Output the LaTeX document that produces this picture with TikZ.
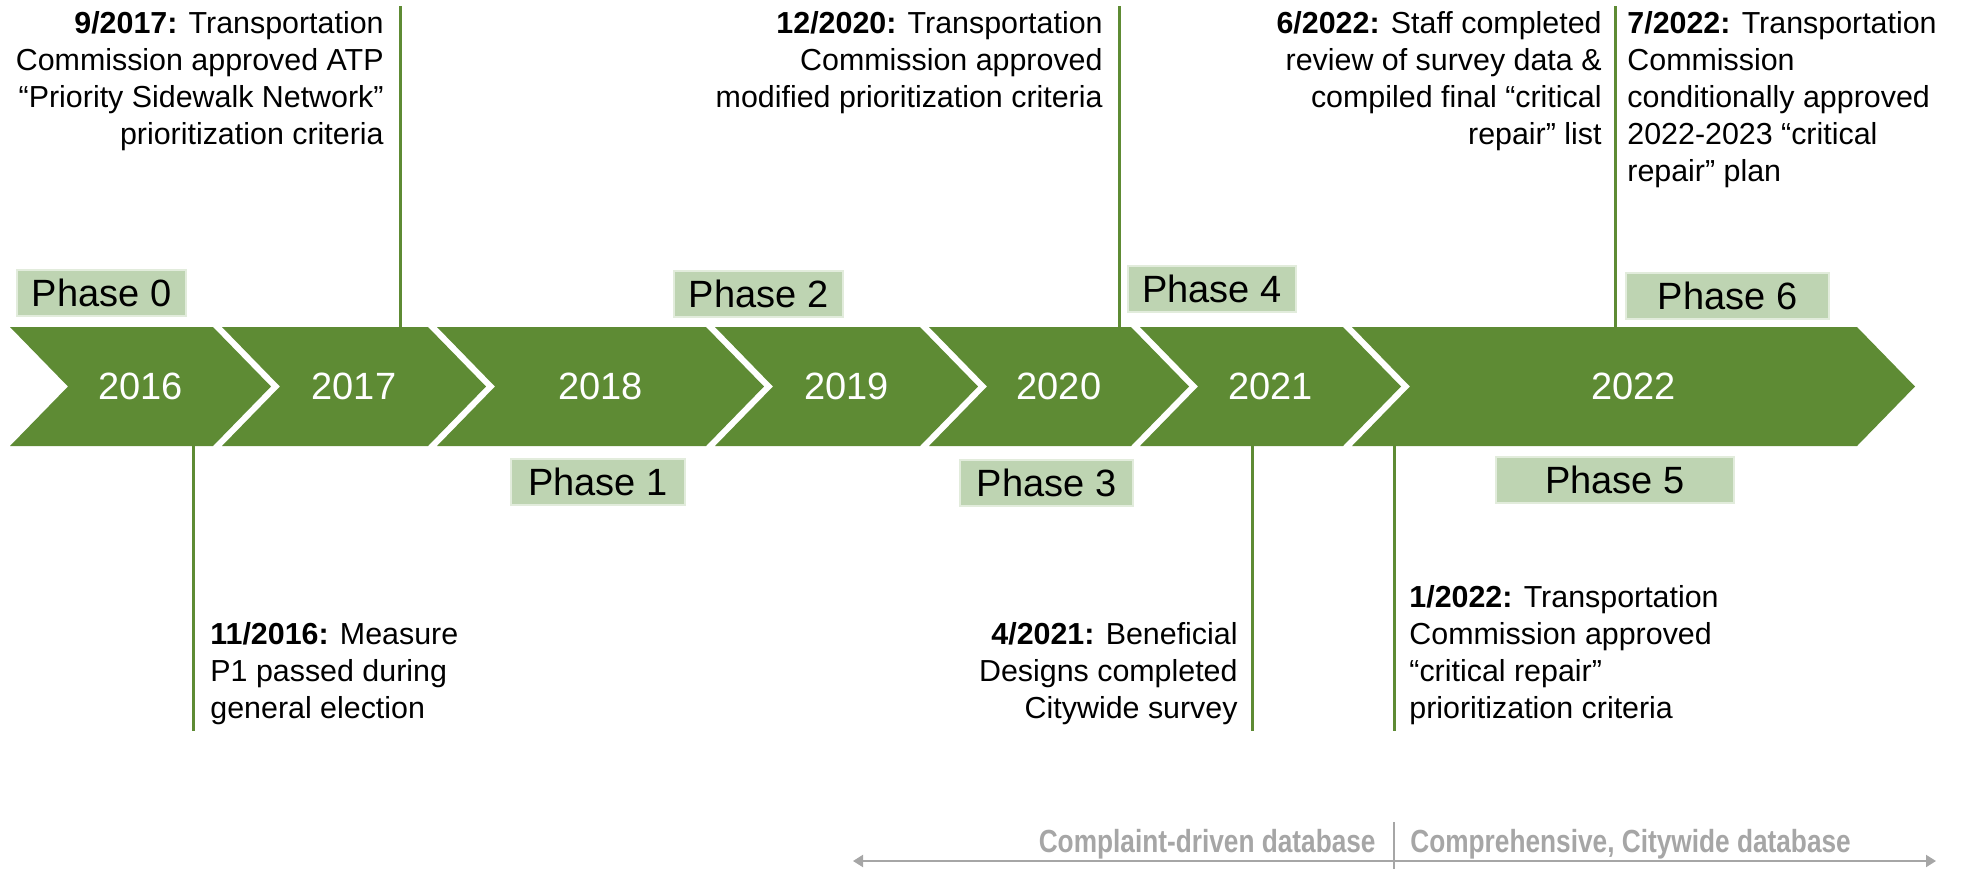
\documentclass[tikz,border=0pt]{standalone}
\usepackage{fontspec}
\setmainfont{Liberation Sans}
\newfontfamily\narrowsans[FakeStretch=0.82]{Liberation Sans}
\usetikzlibrary{arrows.meta}
\definecolor{chevgreen}{RGB}{94,139,52}
\definecolor{phasefill}{RGB}{190,212,178}
\definecolor{legendgray}{RGB}{166,166,166}

\begin{document}
\begin{tikzpicture}[x=0.5pt, y=-0.5pt,
    yearlabel/.style={text=white, inner sep=0pt, font=\fontsize{19}{22}\selectfont},
    phasebox/.style={fill=phasefill, draw=phasefill, draw opacity=0.45, line width=2pt,
        minimum height=22pt, inner sep=0pt, font=\fontsize{19}{22}\selectfont},
    eventtext/.style={inner sep=0pt, font=\fontsize{15.2}{18.5}\selectfont},
    eventline/.style={chevgreen, line width=1.5pt},
    legendtext/.style={text=legendgray, inner sep=0pt, font=\narrowsans\bfseries\fontsize{16}{19}\selectfont}]
    \useasboundingbox (0,0) rectangle (1967,869);

    % Year chevrons
    \foreach \xa/\xb/\yr in {10/213/2016, 222/428/2017, 437/706/2018, 715/920/2019,
                             929/1131/2020, 1140/1343/2021, 1352/1857/2022} {
        \fill[chevgreen] (\xa,327) -- (\xb,327) -- ({\xb+58},386.5) -- (\xb,446)
            -- (\xa,446) -- ({\xa+58},386.5) -- cycle;
        \node[yearlabel] (y\yr) at ({(\xa+\xb)/2+29},386.5) {\yr};
    }

    % Phases
    \node[phasebox, minimum width=83.5pt] (ph0) at (101.5,293) {Phase 0};
    \node[phasebox, minimum width=86pt]   (ph1) at (598,482)   {Phase 1};
    \node[phasebox, minimum width=83.5pt] (ph2) at (758.5,294) {Phase 2};
    \node[phasebox, minimum width=85.5pt] (ph3) at (1046.5,483) {Phase 3};
    \node[phasebox, minimum width=83pt]   (ph4) at (1212,289)  {Phase 4};
    \node[phasebox, minimum width=118pt]  (ph5) at (1615,480)  {Phase 5};
    \node[phasebox, minimum width=100.5pt] (ph6) at (1727.5,296) {Phase 6};

    % Milestones above
    \coordinate (m1a) at (400,6);  \coordinate (m1b) at (400,327);
    \coordinate (m2a) at (1119,6); \coordinate (m2b) at (1119,327);
    \coordinate (m3a) at (1615,6); \coordinate (m3b) at (1615,327);
    \draw[eventline] (m1a) -- (m1b);
    \draw[eventline] (m2a) -- (m2b);
    \draw[eventline] (m3a) -- (m3b);
    \node[eventtext, anchor=north east, align=right] (ev917) at (384,11)
        {\textbf{9/2017:} Transportation\\Commission approved ATP\\“Priority Sidewalk Network”\\prioritization criteria};
    \node[eventtext, anchor=north east, align=right] (ev1220) at (1103,11)
        {\textbf{12/2020:} Transportation\\Commission approved\\modified prioritization criteria};
    \node[eventtext, anchor=north east, align=right] (ev622) at (1602,11)
        {\textbf{6/2022:} Staff completed\\review of survey data \&\\compiled final “critical\\repair” list};
    \node[eventtext, anchor=north west, align=left] (ev722) at (1627,11)
        {\textbf{7/2022:} Transportation\\Commission\\conditionally approved\\2022-2023 “critical\\repair” plan};

    % Milestones below
    \coordinate (m4a) at (193,446);  \coordinate (m4b) at (193,731);
    \coordinate (m5a) at (1252,446); \coordinate (m5b) at (1252,731);
    \coordinate (m6a) at (1394,446); \coordinate (m6b) at (1394,731);
    \draw[eventline] (m4a) -- (m4b);
    \draw[eventline] (m5a) -- (m5b);
    \draw[eventline] (m6a) -- (m6b);
    \node[eventtext, anchor=north west, align=left] (ev1116) at (210,622)
        {\textbf{11/2016:} Measure\\P1 passed during\\general election};
    \node[eventtext, anchor=north east, align=right] (ev421) at (1238,622)
        {\textbf{4/2021:} Beneficial\\Designs completed\\Citywide survey};
    \node[eventtext, anchor=north west, align=left] (ev122) at (1409,585)
        {\textbf{1/2022:} Transportation\\Commission approved\\“critical repair”\\prioritization criteria};

    % Database legend
    \coordinate (dbl) at (853,861); \coordinate (dbr) at (1936,861);
    \coordinate (dvt) at (1394,822); \coordinate (dvb) at (1394,869);
    \draw[legendgray, line width=1pt, {Triangle[length=5pt,width=6pt]}-{Triangle[length=5pt,width=6pt]}] (dbl) -- (dbr);
    \draw[legendgray, line width=1pt] (dvt) -- (dvb);
    \node[legendtext, anchor=base east] (cdb) at (1376,852) {Complaint-driven database};
    \node[legendtext, anchor=base west] (cwdb) at (1410,852) {Comprehensive, Citywide database};
\end{tikzpicture}
\end{document}
